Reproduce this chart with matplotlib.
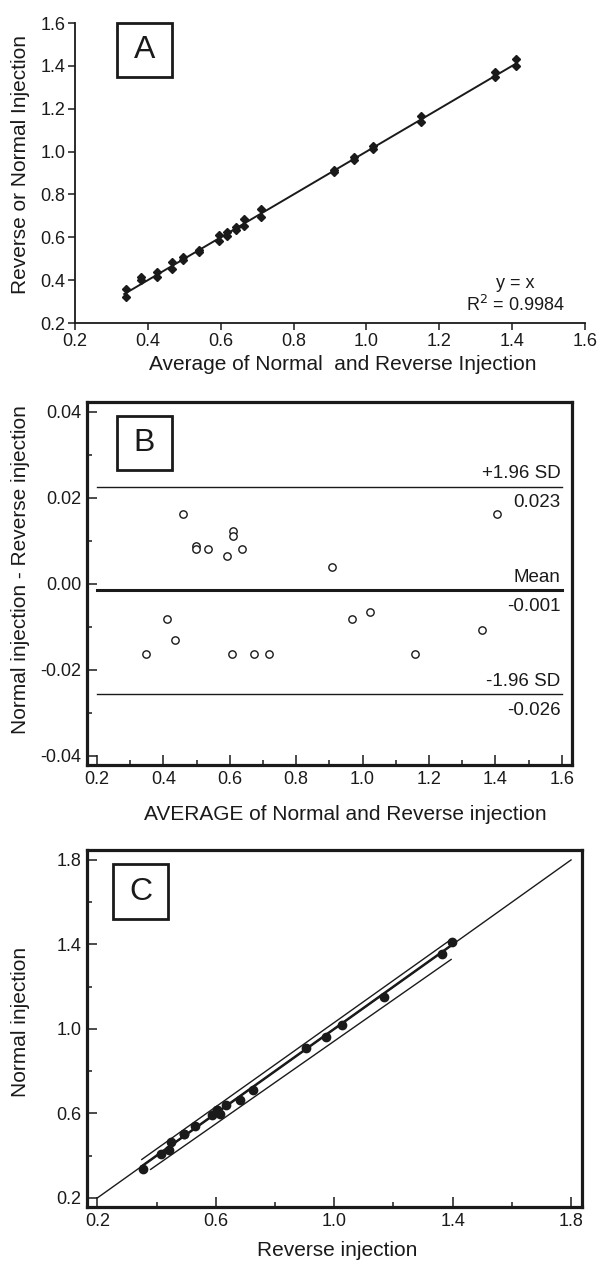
import matplotlib
matplotlib.use("Agg")
import matplotlib.pyplot as plt
from matplotlib.patches import Rectangle
from matplotlib.ticker import MultipleLocator, FormatStrFormatter

plt.rcParams['font.family'] = ['Liberation Sans', 'DejaVu Sans']
plt.rcParams['axes.unicode_minus'] = False

# ---------------- Data ----------------
# Panel A: average of the two injections vs each injection value
avg_A = [0.339, 0.380, 0.424, 0.465, 0.497, 0.540, 0.595, 0.618, 0.641, 0.665, 0.711,
         0.910, 0.965, 1.018, 1.150, 1.352, 1.411]
upper_A = [0.357, 0.416, 0.440, 0.484, 0.510, 0.541, 0.611, 0.627, 0.650, 0.685, 0.731,
           0.915, 0.977, 1.024, 1.167, 1.370, 1.432]
lower_A = [0.323, 0.401, 0.413, 0.452, 0.494, 0.533, 0.583, 0.607, 0.635, 0.653, 0.697,
           0.905, 0.962, 1.012, 1.138, 1.346, 1.401]
fit_A_x = [0.335, 1.41]
eq_text = "y = x"
r2_text = "R$^2$ = 0.9984"

# Panel B: Bland-Altman
avg_B = [0.347, 0.412, 0.434, 0.458, 0.497, 0.497, 0.535, 0.591, 0.606, 0.611,
         0.611, 0.638, 0.673, 0.719, 0.908, 0.968, 1.023, 1.159, 1.359, 1.405]
diff_B = [-0.0163, -0.0081, -0.0131, 0.0163, 0.0088, 0.0081, 0.0081, 0.0065, -0.0164, 0.0123,
          0.0112, 0.0081, -0.0164, -0.0164, 0.0040, -0.0082, -0.0066, -0.0164, -0.0107, 0.0163]
mean_B = -0.0015
upper_sd = 0.0226
lower_sd = -0.0256
upper_lbl = ["+1.96 SD", "0.023"]
mean_lbl = ["Mean", "-0.001"]
lower_lbl = ["-1.96 SD", "-0.026"]
line_B_x = [0.2, 1.6]

# Panel C: normal vs reverse injection
reverse_C = [0.355, 0.416, 0.441, 0.450, 0.493, 0.493, 0.531, 0.588, 0.614, 0.605,
             0.605, 0.634, 0.681, 0.727, 0.906, 0.972, 1.026, 1.167, 1.364, 1.397]
normal_C = [0.339, 0.408, 0.427, 0.466, 0.501, 0.501, 0.539, 0.594, 0.598, 0.617,
            0.617, 0.642, 0.665, 0.711, 0.910, 0.964, 1.020, 1.151, 1.354, 1.413]
ident_C = [0.2, 1.8]
fit_C = [0.35, 1.40]
upper_C_x = [0.35, 1.395]
upper_C_y = [0.382, 1.424]
lower_C_x = [0.38, 1.395]
lower_C_y = [0.335, 1.329]

# ---------------- Figure ----------------
W, H = 601, 1264
fig = plt.figure(figsize=(W / 100, H / 100), dpi=100)


def ax_px(l, t, r, b):
    return fig.add_axes([l / W, 1 - b / H, (r - l) / W, (b - t) / H])


def box_px(l, t, r, b, letter):
    fig.add_artist(Rectangle((l / W, 1 - b / H), (r - l) / W, (b - t) / H,
                             transform=fig.transFigure, fill=False, lw=2.0,
                             edgecolor='#1a1a1a'))
    fig.text((l + r) / 2 / W, 1 - (t + b) / 2 / H, letter, ha='center', va='center',
             fontsize=23, color='#1a1a1a')


TFS = 13
AFS = 13.5
LFS = 15
col = '#1a1a1a'

# ---- Panel A ----
axA = ax_px(75, 23, 585, 323)
axA.plot(fit_A_x, fit_A_x, color=col, lw=1.4)
axA.plot(avg_A, upper_A, 'D', color=col, ms=3.6, ls='none')
axA.plot(avg_A, lower_A, 'D', color=col, ms=3.6, ls='none')
axA.set_xlim(0.2, 1.6)
axA.set_ylim(0.2, 1.6)
axA.xaxis.set_major_locator(MultipleLocator(0.2))
axA.yaxis.set_major_locator(MultipleLocator(0.2))
axA.xaxis.set_major_formatter(FormatStrFormatter('%.1f'))
axA.yaxis.set_major_formatter(FormatStrFormatter('%.1f'))
for s in ['top', 'right']:
    axA.spines[s].set_visible(False)
for s in ['left', 'bottom']:
    axA.spines[s].set_linewidth(1.3)
    axA.spines[s].set_color(col)
axA.tick_params(direction='out', length=5, width=1.1, labelsize=TFS, colors=col, pad=2)
fig.text(515 / W, 1 - 283 / H, eq_text, ha='center', va='center', fontsize=TFS, color=col)
fig.text(515 / W, 1 - 305 / H, r2_text, ha='center', va='center', fontsize=TFS, color=col)
fig.text(343 / W, 1 - 364 / H, "Average of Normal  and Reverse Injection", ha='center',
         va='center', fontsize=LFS, color=col)
fig.text(21 / W, 1 - 164 / H, "Reverse or Normal Injection", ha='center', va='center',
         rotation=90, fontsize=LFS, color=col)
box_px(117, 23, 172, 77, "A")

# ---- Panel B ----
axB = ax_px(87, 402, 572, 765)
axB.scatter(avg_B, diff_B, s=28, facecolors='white', edgecolors=col, linewidths=1.0, zorder=3)
axB.plot(line_B_x, [upper_sd, upper_sd], color=col, lw=1.0)
axB.plot(line_B_x, [mean_B, mean_B], color=col, lw=2.2)
axB.plot(line_B_x, [lower_sd, lower_sd], color=col, lw=1.0)
axB.set_xlim(0.170, 1.631)
axB.set_ylim(-0.0421, 0.0423)
axB.xaxis.set_major_locator(MultipleLocator(0.2))
axB.xaxis.set_minor_locator(MultipleLocator(0.1))
axB.yaxis.set_major_locator(MultipleLocator(0.02))
axB.yaxis.set_minor_locator(MultipleLocator(0.01))
axB.xaxis.set_major_formatter(FormatStrFormatter('%.1f'))
axB.yaxis.set_major_formatter(FormatStrFormatter('%.2f'))
for s in axB.spines.values():
    s.set_linewidth(2.3)
    s.set_color(col)
axB.tick_params(which='major', direction='in', length=7.2, width=1.1, labelsize=TFS,
                colors=col, pad=4)
axB.tick_params(which='minor', direction='in', length=3.5, width=1.1, colors=col)
for yv, lbls in [(upper_sd, upper_lbl), (mean_B, mean_lbl), (lower_sd, lower_lbl)]:
    axB.annotate(lbls[0], (1.6, yv), xytext=(-1, 13), textcoords='offset pixels',
                 ha='right', va='center', fontsize=AFS, color=col)
    axB.annotate(lbls[1], (1.6, yv), xytext=(-1, -16), textcoords='offset pixels',
                 ha='right', va='center', fontsize=AFS, color=col)
fig.text(345 / W, 1 - 814 / H, "AVERAGE of Normal and Reverse injection", ha='center',
         va='center', fontsize=LFS, color=col)
fig.text(21 / W, 1 - 570 / H, "Normal injection - Reverse injection", ha='center',
         va='center', rotation=90, fontsize=LFS, color=col)
box_px(117, 416, 172, 470, "B")

# ---- Panel C ----
axC = ax_px(87, 850, 582, 1207)
axC.plot(ident_C, ident_C, color=col, lw=1.0)
axC.plot(fit_C, fit_C, color=col, lw=1.8)
axC.plot(upper_C_x, upper_C_y, color=col, lw=1.0)
axC.plot(lower_C_x, lower_C_y, color=col, lw=1.0)
axC.plot(reverse_C, normal_C, 'o', color=col, ms=6, ls='none', zorder=3)
axC.set_xlim(0.165, 1.837)
axC.set_ylim(0.157, 1.847)
axC.xaxis.set_minor_locator(MultipleLocator(0.2))
axC.yaxis.set_minor_locator(MultipleLocator(0.2))
axC.set_xticks([0.2, 0.6, 1.0, 1.4, 1.8])
axC.set_yticks([0.2, 0.6, 1.0, 1.4, 1.8])
axC.xaxis.set_major_formatter(FormatStrFormatter('%.1f'))
axC.yaxis.set_major_formatter(FormatStrFormatter('%.1f'))
for s in axC.spines.values():
    s.set_linewidth(2.3)
    s.set_color(col)
axC.tick_params(which='major', direction='in', length=7.2, width=1.1, labelsize=TFS,
                colors=col, pad=4)
axC.tick_params(which='minor', direction='in', length=3.5, width=1.1, colors=col)
fig.text(337 / W, 1 - 1250 / H, "Reverse injection", ha='center', va='center',
         fontsize=LFS, color=col)
fig.text(21 / W, 1 - 1022 / H, "Normal injection", ha='center', va='center',
         rotation=90, fontsize=LFS, color=col)
box_px(113, 864, 168, 919, "C")

fig.savefig("out.png", dpi=100)
